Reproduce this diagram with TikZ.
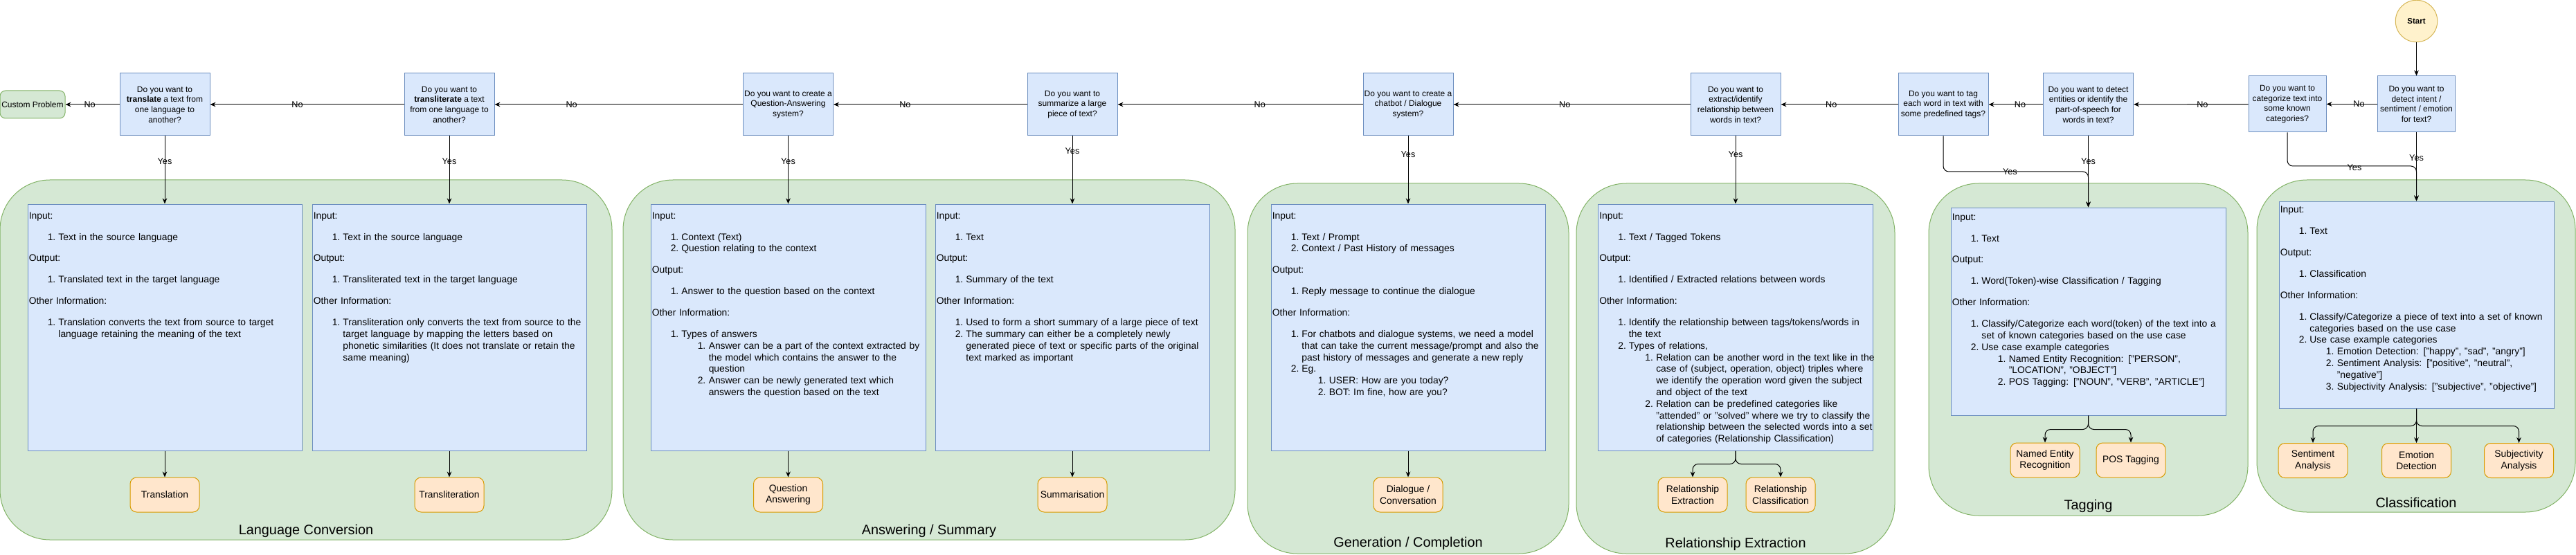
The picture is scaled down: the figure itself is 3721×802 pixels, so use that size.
\documentclass[tikz,border=0pt]{standalone}
\usepackage{fontspec}
\setmainfont{Liberation Sans}
\usetikzlibrary{arrows.meta}

% helpers for the Input / Output / Other Information boxes
\newcommand{\infohead}[2][0pt]{\par\noindent\rule{0pt}{#1}#2\par\vspace{10.6pt}}
\newcommand{\infogap}{\par\vspace{10.6pt}}
\newcommand{\itemA}[2]{\par\noindent\hangindent=32pt\hangafter=1\hspace*{20.25pt}\makebox[11.75pt][l]{#1}#2\par}
\newcommand{\itemB}[2]{\par\noindent\hangindent=61.5pt\hangafter=1\hspace*{49.5pt}\makebox[12pt][l]{#1}#2\par}

\begin{document}
\begin{tikzpicture}[x=0.75pt,y=0.75pt,yscale=-1,xscale=1,
  conn/.style={line width=0.75pt,-{Stealth[length=6pt,width=5pt]}},
  qbox/.style={draw={rgb, 255:red, 108; green, 142; blue, 191},fill={rgb, 255:red, 218; green, 232; blue, 252},line width=0.75pt,minimum width=97.5pt,minimum height=67.5pt,inner sep=1pt,align=center,font=\fontsize{9}{11}\selectfont},
  qsmall/.style={qbox,minimum width=84pt,minimum height=60.75pt},
  infobox/.style={draw={rgb, 255:red, 108; green, 142; blue, 191},fill={rgb, 255:red, 218; green, 232; blue, 252},line width=0.75pt,inner sep=0pt},
  infotext/.style={anchor=north west,inner sep=0pt,text width=300pt,align=left,font=\fontsize{10.4}{12.6}\selectfont},
  resbox/.style={draw={rgb, 255:red, 215; green, 155; blue, 0},fill={rgb, 255:red, 255; green, 230; blue, 204},line width=0.75pt,rounded corners=7pt,minimum width=75pt,minimum height=37.5pt,inner sep=2pt,align=center,font=\fontsize{10.4}{12.6}\selectfont},
  panel/.style={draw={rgb, 255:red, 130; green, 179; blue, 102},fill={rgb, 255:red, 213; green, 232; blue, 212},line width=0.75pt,rounded corners=54pt},
  grouplbl/.style={inner sep=0pt,font=\fontsize{14.9}{18}\selectfont},
  edgelbl/.style={inner sep=0pt,font=\fontsize{9.5}{11}\selectfont}]
\useasboundingbox (0,0) rectangle (3721,802);

%Shape: Rounded Rect (groups)
\node[panel,minimum width=663pt,minimum height=390pt] (pLC) at (442,520) {};
\node[panel,minimum width=663pt,minimum height=390pt] (pAS) at (1342,520) {};
\node[panel,minimum width=348pt,minimum height=401.25pt] (pGC) at (2034,532.5) {};
\node[panel,minimum width=345pt,minimum height=401.25pt] (pRE) at (2507,532.5) {};
\node[panel,minimum width=345.75pt,minimum height=360pt] (pTG) at (3016.5,505) {};
\node[panel,minimum width=345pt,minimum height=360pt] (pCL) at (3490,500) {};

% Text Node
\node[grouplbl] (lLC) at (442,767) {Language Conversion};
\node[grouplbl] (lAS) at (1342,767) {Answering / Summary};
\node[grouplbl] (lGC) at (2034,785) {Generation / Completion};
\node[grouplbl] (lRE) at (2507,786) {Relationship Extraction};
\node[grouplbl] (lTG) at (3016.5,731) {Tagging};
\node[grouplbl] (lCL) at (3490,726) {Classification};

%Shape: Ellipse
\node[circle,draw={rgb, 255:red, 214; green, 182; blue, 86},fill={rgb, 255:red, 255; green, 242; blue, 204},line width=0.75pt,minimum size=45.4pt,inner sep=0pt,font=\fontsize{8.6}{10}\selectfont] (start) at (3490.5,30.5) {\textbf{Start}};

%Shape: Rectangle (questions)
\node[qbox] (q1) at (238,151) {Do you want to\\\textbf{translate} a text from\\one language to\\another?};
\node[qbox] (q2) at (649,151) {Do you want to\\\textbf{transliterate} a text\\from one language to\\another?};
\node[qbox] (q3) at (1138.5,151) {Do you want to create a\\Question-Answering\\system?};
\node[qbox] (q4) at (1549,151) {Do you want to\\summarize a large\\piece of text?};
\node[qbox] (q5) at (2034,151) {Do you want to create a\\chatbot / Dialogue\\system?};
\node[qbox] (q6) at (2507,151) {Do you want to\\extract/identify\\relationship between\\words in text?};
\node[qbox] (q7) at (2807,151) {Do you want to tag\\each word in text with\\some predefined tags?};
\node[qbox] (q8) at (3016.5,151) {Do you want to detect\\entities or identify the\\part-of-speech for\\words in text?};
\node[qsmall] (q9) at (3304,150.5) {Do you want to\\categorize text into\\some known\\categories?};
\node[qsmall] (q10) at (3490.5,150.5) {Do you want to\\detect intent /\\sentiment / emotion\\for text?};
\node[draw={rgb, 255:red, 130; green, 179; blue, 102},fill={rgb, 255:red, 213; green, 232; blue, 212},line width=0.75pt,rounded corners=6pt,minimum width=70.5pt,minimum height=30pt,inner sep=1pt,font=\fontsize{9}{11}\selectfont] (cust) at (47,151) {Custom Problem};

%Shape: Rectangle (info boxes)
\node[infobox,minimum width=297pt,minimum height=267pt] (tA) at (238,473) {};
\node[infobox,minimum width=297pt,minimum height=267pt] (tB) at (649,473) {};
\node[infobox,minimum width=297.75pt,minimum height=267pt] (tC) at (1138.5,473) {};
\node[infobox,minimum width=297pt,minimum height=267pt] (tD) at (1549,473) {};
\node[infobox,minimum width=297pt,minimum height=267pt] (tE) at (2034,473) {};
\node[infobox,minimum width=297.75pt,minimum height=267pt] (tF) at (2507,473) {};
\node[infobox,minimum width=297.75pt,minimum height=225pt] (tG) at (3016.5,450) {};
\node[infobox,minimum width=297.75pt,minimum height=224.25pt] (tH) at (3490.5,440.5) {};

% Text Node
\node[infotext,xshift=1.5pt] (xA) at (tA.north west) {%
\infohead[15pt]{Input:}
\itemA{1.}{Text in the source language}
\infogap\infohead{Output:}
\itemA{1.}{Translated text in the target language}
\infogap\infohead{Other Information:}
\itemA{1.}{Translation converts the text from source to target\newline language retaining the meaning of the text}};
% Text Node
\node[infotext,xshift=1.5pt] (xB) at (tB.north west) {%
\infohead[15pt]{Input:}
\itemA{1.}{Text in the source language}
\infogap\infohead{Output:}
\itemA{1.}{Transliterated text in the target language}
\infogap\infohead{Other Information:}
\itemA{1.}{Transliteration only converts the text from source to the\newline target language by mapping the letters based on\newline phonetic similarities (It does not translate or retain the\newline same meaning)}};
% Text Node
\node[infotext,xshift=1.5pt] (xC) at (tC.north west) {%
\infohead[15pt]{Input:}
\itemA{1.}{Context (Text)}
\itemA{2.}{Question relating to the context}
\infogap\infohead{Output:}
\itemA{1.}{Answer to the question based on the context}
\infogap\infohead{Other Information:}
\itemA{1.}{Types of answers}
\itemB{1.}{Answer can be a part of the context extracted by\newline the model which contains the answer to the\newline question}
\itemB{2.}{Answer can be newly generated text which\newline answers the question based on the text}};
% Text Node
\node[infotext,xshift=1.5pt] (xD) at (tD.north west) {%
\infohead[15pt]{Input:}
\itemA{1.}{Text}
\infogap\infohead{Output:}
\itemA{1.}{Summary of the text}
\infogap\infohead{Other Information:}
\itemA{1.}{Used to form a short summary of a large piece of text}
\itemA{2.}{The summary can either be a completely newly\newline generated piece of text or specific parts of the original\newline text marked as important}};
% Text Node
\node[infotext,xshift=1.5pt] (xE) at (tE.north west) {%
\infohead[15pt]{Input:}
\itemA{1.}{Text / Prompt}
\itemA{2.}{Context / Past History of messages}
\infogap\infohead{Output:}
\itemA{1.}{Reply message to continue the dialogue}
\infogap\infohead{Other Information:}
\itemA{1.}{For chatbots and dialogue systems, we need a model\newline that can take the current message/prompt and also the\newline past history of messages and generate a new reply}
\itemA{2.}{Eg.}
\itemB{1.}{USER: How are you today?}
\itemB{2.}{BOT: Im fine, how are you?}};
% Text Node
\node[infotext,xshift=1.5pt] (xF) at (tF.north west) {%
\infohead[15pt]{Input:}
\itemA{1.}{Text / Tagged Tokens}
\infogap\infohead{Output:}
\itemA{1.}{Identified / Extracted relations between words}
\infogap\infohead{Other Information:}
\itemA{1.}{Identify the relationship between tags/tokens/words in\newline the text}
\itemA{2.}{Types of relations,}
\itemB{1.}{Relation can be another word in the text like in the\newline case of (subject, operation, object) triples where\newline we identify the operation word given the subject\newline and object of the text}
\itemB{2.}{Relation can be predefined categories like\newline "attended" or "solved" where we try to classify the\newline relationship between the selected words into a set\newline of categories (Relationship Classification)}};
% Text Node
\node[infotext,xshift=1.5pt] (xG) at (tG.north west) {%
\infohead[12.75pt]{Input:}
\itemA{1.}{Text}
\infogap\infohead{Output:}
\itemA{1.}{Word(Token)-wise Classification / Tagging}
\infogap\infohead{Other Information:}
\itemA{1.}{Classify/Categorize each word(token) of the text into a\newline set of known categories based on the use case}
\itemA{2.}{Use case example categories}
\itemB{1.}{Named Entity Recognition: ["PERSON",\newline "LOCATION", "OBJECT"]}
\itemB{2.}{POS Tagging: ["NOUN", "VERB", "ARTICLE"]}};
% Text Node
\node[infotext,xshift=1.5pt] (xH) at (tH.north west) {%
\infohead[12pt]{Input:}
\itemA{1.}{Text}
\infogap\infohead{Output:}
\itemA{1.}{Classification}
\infogap\infohead{Other Information:}
\itemA{1.}{Classify/Categorize a piece of text into a set of known\newline categories based on the use case}
\itemA{2.}{Use case example categories}
\itemB{1.}{Emotion Detection: ["happy", "sad", "angry"]}
\itemB{2.}{Sentiment Analysis: ["positive", "neutral",\newline "negative"]}
\itemB{3.}{Subjectivity Analysis: ["subjective", "objective"]}};

%Shape: Rounded Rect (results)
\node[resbox] (rTrans) at (238,715) {Translation};
\node[resbox] (rTranslit) at (649,715) {Transliteration};
\node[resbox] (rQA) at (1138.5,715) {Question\\Answering};
\node[resbox] (rSum) at (1549,715) {Summarisation};
\node[resbox] (rDlg) at (2034,715) {Dialogue /\\Conversation};
\node[resbox] (rRelEx) at (2445,715) {Relationship\\Extraction};
\node[resbox] (rRelCl) at (2572,715) {Relationship\\Classification};
\node[resbox] (rNER) at (2954,665) {Named Entity\\Recognition};
\node[resbox] (rPOS) at (3078,665) {POS Tagging};
\node[resbox] (rSent) at (3341,665.5) {Sentiment\\Analysis};
\node[resbox] (rEmo) at (3490.5,665.5) {Emotion\\Detection};
\node[resbox] (rSubj) at (3638.5,665.5) {Subjectivity\\Analysis};

%Straight Lines (No)
\draw[conn] (start) -- (q10);
\draw[conn] (q10) -- (q9) node[edgelbl,pos=0.36] {No};
\draw[conn] (q9) -- (q8) node[edgelbl,pos=0.4] {No};
\draw[conn] (q8) -- (q7) node[edgelbl,pos=0.42] {No};
\draw[conn] (q7) -- (q6) node[edgelbl,pos=0.57] {No};
\draw[conn] (q6) -- (q5) node[edgelbl,pos=0.53] {No};
\draw[conn] (q5) -- (q4) node[edgelbl,pos=0.42] {No};
\draw[conn] (q4) -- (q3) node[edgelbl,pos=0.63] {No};
\draw[conn] (q3) -- (q2) node[edgelbl,pos=0.69] {No};
\draw[conn] (q2) -- (q1) node[edgelbl,pos=0.55] {No};
\draw[conn] (q1) -- (cust) node[edgelbl,pos=0.55] {No};

%Straight Lines (Yes)
\draw[conn] (q1.south) -- (tA.north) node[edgelbl,pos=0.37] {Yes};
\draw[conn] (q2.south) -- (tB.north) node[edgelbl,pos=0.37] {Yes};
\draw[conn] (q3.south) -- (tC.north) node[edgelbl,pos=0.37] {Yes};
\draw[conn] (q4.south) -- (tD.north) node[edgelbl,pos=0.22] {Yes};
\draw[conn] (q5.south) -- (tE.north) node[edgelbl,pos=0.27] {Yes};
\draw[conn] (q6.south) -- (tF.north) node[edgelbl,pos=0.27] {Yes};
\draw[conn] (q8.south) -- (tG.north) node[edgelbl,pos=0.36] {Yes};
\draw[conn] (q10.south) -- (tH.north) node[edgelbl,pos=0.37] {Yes};
\coordinate (tagjoin) at (3016.5,248);
\coordinate (clsjoin) at (3490.5,240);
\draw[conn,rounded corners=6pt] (q7.south) |- node[edgelbl,pos=0.73] {Yes} (tagjoin) -- (tG.north);
\draw[conn,rounded corners=6pt] (q9.south) |- node[edgelbl,pos=0.76,yshift=-1.5pt] {Yes} (clsjoin) -- (tH.north);

%Straight Lines (results)
\draw[conn] (tA.south) -- (rTrans.north);
\draw[conn] (tB.south) -- (rTranslit.north);
\draw[conn] (tC.south) -- (rQA.north);
\draw[conn] (tD.south) -- (rSum.north);
\draw[conn] (tE.south) -- (rDlg.north);
\draw[conn,rounded corners=6pt] (tF.south) -- ++(0,19) -| (rRelEx.north);
\draw[conn,rounded corners=6pt] (tF.south) -- ++(0,19) -| (rRelCl.north);
\draw[conn,rounded corners=6pt] (tG.south) -- ++(0,20) -| (rNER.north);
\draw[conn,rounded corners=6pt] (tG.south) -- ++(0,20) -| (rPOS.north);
\draw[conn,rounded corners=6pt] (tH.south) -- ++(0,25) -| (rSent.north);
\draw[conn] (tH.south) -- (rEmo.north);
\draw[conn,rounded corners=6pt] (tH.south) -- ++(0,25) -| (rSubj.north);

\end{tikzpicture}
\end{document}
